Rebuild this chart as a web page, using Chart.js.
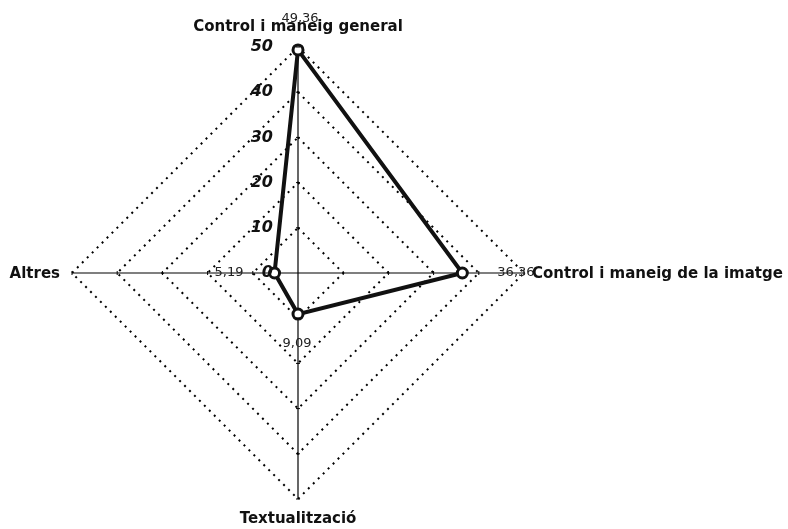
<!DOCTYPE html>
<html lang="ca">
<head>
<meta charset="UTF-8">
<title>Radar</title>
<script src="https://cdn.jsdelivr.net/npm/chart.js"></script>
<style>
  html, body { margin: 0; padding: 0; background: #fff; }
  #wrap { width: 788px; height: 529px; }
</style>
</head>
<body>
<div id="wrap"><canvas id="radarChart"></canvas></div>
<script>
  // data
  const categories = ['Control i maneig general', 'Control i maneig de la imatge', 'Textualització', 'Altres'];
  const values = [49.36, 36.36, 9.09, 5.19];
  const tickValues = [0, 10, 20, 30, 40, 50];

  const fmt = v => v.toFixed(2).replace('.', ',');

  // labels, ticks and small axis marks drawn on top of the radial scale
  const labelPlugin = {
    id: 'labelPlugin',
    afterDraw(chart) {
      const ctx = chart.ctx;
      const r = chart.scales.r;
      const top = tickValues[tickValues.length - 1];
      ctx.save();

      // little cross marks on each axis line
      ctx.strokeStyle = '#000';
      ctx.lineWidth = 1;
      categories.forEach((c, i) => {
        tickValues.forEach(v => {
          if (v === 0) return;
          const p = r.getPointPositionForValue(i, v);
          const a = p.angle + Math.PI / 2;
          ctx.beginPath();
          ctx.moveTo(p.x - Math.cos(a) * 2, p.y - Math.sin(a) * 2);
          ctx.lineTo(p.x + Math.cos(a) * 2, p.y + Math.sin(a) * 2);
          ctx.stroke();
        });
      });

      // tick labels, left of the vertical axis
      ctx.fillStyle = '#111';
      ctx.font = 'italic bold 16px "DejaVu Sans"';
      ctx.textAlign = 'right';
      ctx.textBaseline = 'middle';
      tickValues.forEach(v => {
        const d = r.getDistanceFromCenterForValue(v);
        ctx.fillText(String(v), r.xCenter - 25, r.yCenter - d);
      });

      // value labels
      ctx.font = '13px "DejaVu Sans"';
      ctx.fillStyle = '#222';
      const valOff = [
        { dx: 2, dy: -31, align: 'center' },
        { dx: 35, dy: 0, align: 'left' },
        { dx: -1, dy: 30, align: 'center' },
        { dx: -31, dy: 0, align: 'right' }
      ];
      values.forEach((v, i) => {
        const p = r.getPointPositionForValue(i, v);
        const o = valOff[i];
        ctx.textAlign = o.align;
        ctx.fillText(fmt(v), p.x + o.dx, p.y + o.dy);
      });

      // category labels
      ctx.font = 'bold 15px "DejaVu Sans"';
      ctx.fillStyle = '#111';
      const catOff = [
        { dx: 0, dy: -20, align: 'center' },
        { dx: 8, dy: 1, align: 'left' },
        { dx: 0, dy: 20, align: 'center' },
        { dx: -12, dy: 1, align: 'right' }
      ];
      categories.forEach((c, i) => {
        const p = r.getPointPositionForValue(i, top);
        const o = catOff[i];
        ctx.textAlign = o.align;
        ctx.fillText(c, p.x + o.dx, p.y + o.dy);
      });

      ctx.restore();
    }
  };

  new Chart(document.getElementById('radarChart'), {
    type: 'radar',
    data: {
      labels: categories,
      datasets: [{
        data: values,
        fill: false,
        borderColor: '#111',
        borderWidth: 4,
        pointRadius: 5,
        pointBorderWidth: 3,
        pointBorderColor: '#111',
        pointBackgroundColor: '#fff'
      }]
    },
    options: {
      responsive: true,
      maintainAspectRatio: false,
      animation: false,
      layout: { padding: { left: 72, right: 264, top: 47, bottom: 30 } },
      plugins: { legend: { display: false }, tooltip: { enabled: false } },
      scales: {
        r: {
          min: 0,
          max: 50,
          ticks: { display: false, stepSize: 10 },
          pointLabels: { display: false },
          grid: { circular: false, color: '#000', lineWidth: 2 },
          border: { dash: [2, 5] },
          angleLines: { color: '#000', lineWidth: 1.2 }
        }
      }
    },
    plugins: [labelPlugin]
  });
</script>
</body>
</html>
